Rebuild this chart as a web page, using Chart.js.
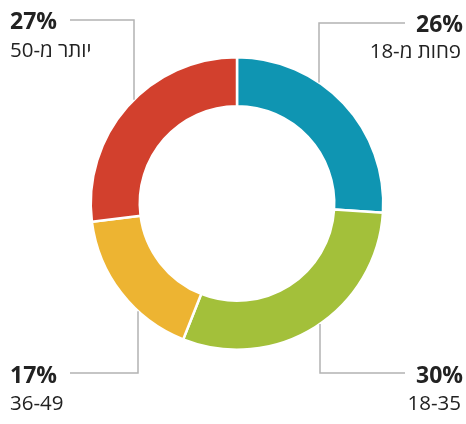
<!DOCTYPE html>
<html>
<head>
<meta charset="utf-8">
<script src="https://cdn.jsdelivr.net/npm/chart.js@4/dist/chart.umd.min.js"></script>
<style>
html,body{margin:0;padding:0;background:#fff;}
#wrap{width:466px;height:424px;position:relative;}
</style>
</head>
<body>
<div id="wrap"><canvas id="c" width="466" height="424"></canvas></div>
<script>
// Data
const categories = ['פחות מ-18', '18-35', '36-49', 'יותר מ-50'];
const values = [26, 30, 17, 27];
const percentLabels = ['26%', '30%', '17%', '27%'];
const colors = ['#0f95b2', '#a3c03a', '#edb432', '#d2402d'];

// Annotation layout (per slice): side, leader vertical offset from centre, horizontal line y, text positions
const annot = [
  {side:'right', dx: 82,  lineY: 23,  lineEnd: 405, textX: 463, pctY: 32,  subY: 58,  up: true},
  {side:'right', dx: 83,  lineY: 373, lineEnd: 405, textX: 463, pctY: 383, subY: 410, up: false},
  {side:'left',  dx: -99, lineY: 373, lineEnd: 70,  textX: 10,  pctY: 383, subY: 410, up: false},
  {side:'left',  dx: -103,lineY: 20,  lineEnd: 70,  textX: 10,  pctY: 29,  subY: 57,  up: true}
];

const labelPlugin = {
  id: 'leaderLabels',
  afterDraw(chart) {
    const ctx = chart.ctx;
    const meta = chart.getDatasetMeta(0);
    meta.data.forEach((arc, i) => {
      const a = annot[i];
      const cx = arc.x, cy = arc.y, R = arc.outerRadius;
      const vx = cx + a.dx;
      const dy = Math.sqrt(Math.max(R*R - a.dx*a.dx, 0));
      const vy = a.up ? cy - dy : cy + dy;
      ctx.save();
      ctx.strokeStyle = '#b3b3b3';
      ctx.lineWidth = 1.5;
      ctx.beginPath();
      ctx.moveTo(a.lineEnd, a.lineY);
      ctx.lineTo(vx, a.lineY);
      ctx.lineTo(vx, vy);
      ctx.stroke();
      ctx.fillStyle = '#222';
      ctx.textBaseline = 'alphabetic';
      ctx.textAlign = a.side === 'right' ? 'right' : 'left';
      ctx.direction = 'ltr';
      ctx.font = 'bold 23px "Open Sans"';
      ctx.fillText(percentLabels[i], a.textX, a.pctY);
      ctx.font = '20.5px "Open Sans"';
      ctx.direction = /[\u0590-\u05FF]/.test(categories[i]) ? 'rtl' : 'ltr';
      ctx.textAlign = a.side === 'right' ? 'right' : 'left';
      ctx.fillText(categories[i], a.textX - (a.side === 'right' ? 2 : 0), a.subY);
      ctx.restore();
    });
  }
};

new Chart(document.getElementById('c'), {
  type: 'doughnut',
  data: {
    labels: categories,
    datasets: [{
      data: values,
      backgroundColor: colors,
      borderColor: '#ffffff',
      borderWidth: 2.5,
      hoverOffset: 0
    }]
  },
  options: {
    responsive: false,
    animation: false,
    cutout: '66.5%',
    rotation: 0,
    layout: { padding: { left: 80, right: 72, top: 56, bottom: 73 } },
    plugins: { legend: { display: false }, tooltip: { enabled: false } }
  },
  plugins: [labelPlugin]
});
</script>
</body>
</html>
